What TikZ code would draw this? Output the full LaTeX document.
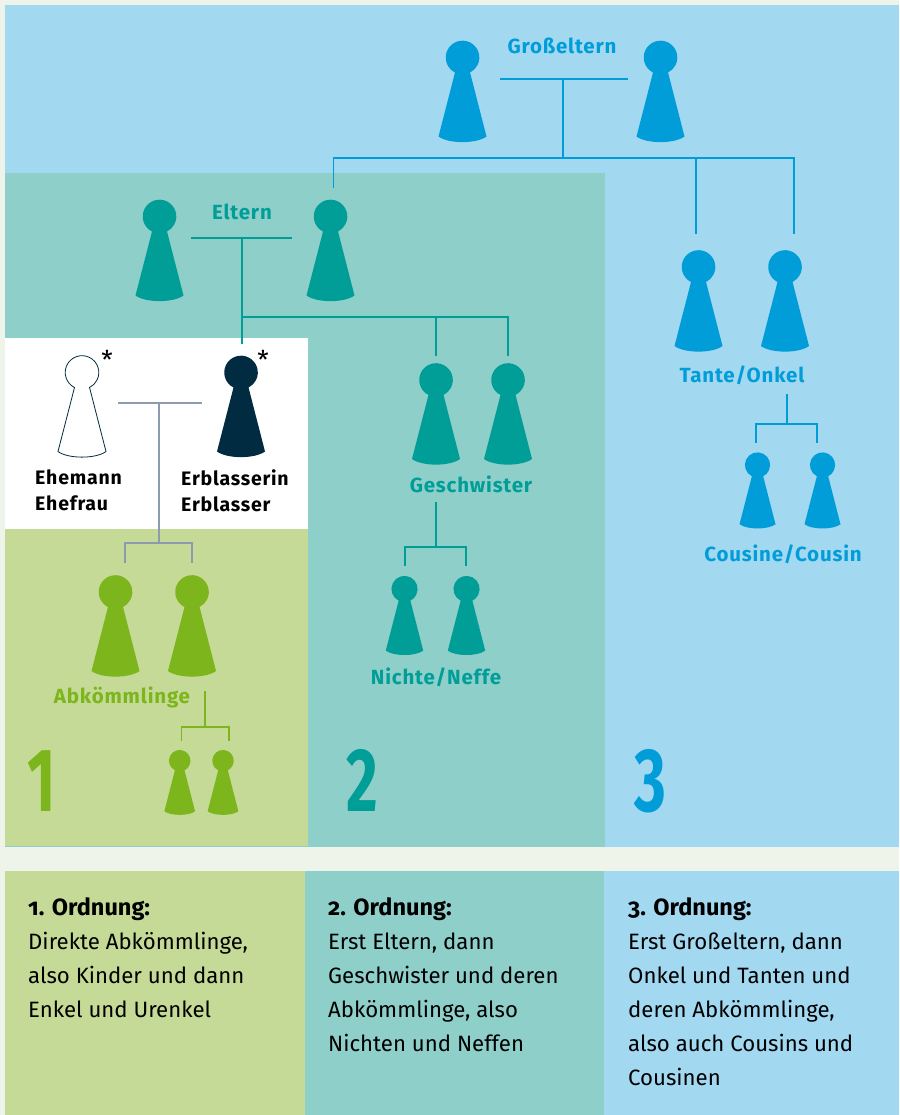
\documentclass[tikz,border=0pt]{standalone}
\usepackage{fontspec}
\setmainfont{Fira Sans}
\newfontfamily\labelfont[LetterSpace=4]{Fira Sans}
\newfontfamily\orderfont[Numbers=OldStyle]{Fira Sans}
\newcommand\ordertitle[1]{{\fontsize{23.5}{34}\selectfont\bfseries #1}}
\definecolor{pagebg}{HTML}{EEF4E9}
\definecolor{blueback}{HTML}{A3D8F1}
\definecolor{tealback}{HTML}{8FCFCA}
\definecolor{greenback}{HTML}{C5DA97}
\definecolor{bluedark}{HTML}{009DD9}
\definecolor{tealdark}{HTML}{009E97}
\definecolor{greendark}{HTML}{7DB51C}
\definecolor{navy}{HTML}{012B41}
\definecolor{greyline}{HTML}{8D9BAE}
\tikzset{
    pics/pawn/.style = {
        code = {
            \path[pic actions] (-7.5,15) arc[start angle=243.4, end angle=-63.4, radius=16.8pt]
                -- (24,79) .. controls (14,86.5) and (-14,86.5) .. (-24,79) -- cycle;
        }
    },
    relation/.style = {line width=1.6pt, #1},
    kin/.style = {
        inner sep=0, anchor=base, text=#1, font=\labelfont\bfseries\fontsize{20.5}{24}\selectfont
    },
    bignum/.style = {
        inner sep=0, anchor=base west, text=#1, font=\bfseries\fontsize{90}{90}\selectfont
    },
    person/.style = {
        inner sep=0, anchor=base west, align=left, font=\labelfont\bfseries\fontsize{19.5}{26}\selectfont
    },
    order/.style = {
        inner sep=0, anchor=north west, align=left, font=\orderfont\fontsize{22.2}{34}\selectfont
    }
}
\begin{document}
\begin{tikzpicture}[x=1pt, y=-1pt]
    \useasboundingbox (0,0) rectangle (899,1115);
    % backgrounds
    \fill[pagebg] (0,0) rectangle (899,1115);
    \fill[blueback] (5,5) rectangle (899,847);
    \fill[tealback] (5,173) rectangle (605,847);
    \fill[white] (5,338) rectangle (308,529);
    \fill[greenback] (5,529) rectangle (308,846);
    \fill[greenback] (5,871) rectangle (305,1115);
    \fill[tealback] (305,871) rectangle (604,1115);
    \fill[blueback] (604,871) rectangle (899,1115);
    % pawns
    \pic[fill=bluedark] (grandA) at (462.5,57.5) {pawn};
    \pic[fill=bluedark] (grandB) at (660.5,57.5) {pawn};
    \pic[fill=tealdark] (parentA) at (159.5,216.5) {pawn};
    \pic[fill=tealdark] (parentB) at (330.5,216.5) {pawn};
    \pic[fill=bluedark] (auntA) at (698.5,267) {pawn};
    \pic[fill=bluedark] (auntB) at (785,267) {pawn};
    \pic[draw=navy, line width=.8pt, fill=white] (spouse) at (82,372.5) {pawn};
    \pic[fill=navy] (testator) at (241,372.5) {pawn};
    \pic[fill=tealdark] (siblingA) at (436,380) {pawn};
    \pic[fill=tealdark] (siblingB) at (508,380) {pawn};
    \pic[fill=bluedark, scale=.75] (cousinA) at (757.5,465) {pawn};
    \pic[fill=bluedark, scale=.75] (cousinB) at (822.5,465) {pawn};
    \pic[fill=tealdark, scale=.78] (niceA) at (404.5,589) {pawn};
    \pic[fill=tealdark, scale=.78] (niceB) at (466.5,589) {pawn};
    \pic[fill=greendark] (childA) at (115.5,592) {pawn};
    \pic[fill=greendark] (childB) at (192,592) {pawn};
    \pic[fill=greendark, scale=.64] (grandchildA) at (179.7,760.7) {pawn};
    \pic[fill=greendark, scale=.64] (grandchildB) at (223,760.7) {pawn};
    % connector points
    \coordinate (gpL) at (500,79);
    \coordinate (gpR) at (628,79);
    \coordinate (gpM) at (563,79);
    \coordinate (gpD) at (563,158);
    \coordinate (gpA) at (333.5,188);
    \coordinate (gpB) at (696,234);
    \coordinate (gpC) at (794,234);
    \coordinate (pL) at (191,238);
    \coordinate (pR) at (292,238);
    \coordinate (pM) at (242,238);
    \coordinate (pD) at (242,344);
    \coordinate (pJ) at (242,317);
    \coordinate (pA) at (436,356);
    \coordinate (pB) at (508,356);
    \coordinate (cL) at (118,402.5);
    \coordinate (cR) at (202,402.5);
    \coordinate (cM) at (158.5,402.5);
    \coordinate (cD) at (158.5,542.5);
    \coordinate (cA) at (125,563);
    \coordinate (cB) at (192,563);
    \coordinate (aU) at (787,394);
    \coordinate (aD) at (787,424);
    \coordinate (aA) at (756,443);
    \coordinate (aB) at (817,443);
    \coordinate (sU) at (436,502);
    \coordinate (sD) at (436,547);
    \coordinate (sA) at (405,566);
    \coordinate (sB) at (466,566);
    \coordinate (kU) at (205,691);
    \coordinate (kD) at (205,727);
    \coordinate (kA) at (181.5,741);
    \coordinate (kB) at (229,741);
    % connectors
    \draw[relation=bluedark] (gpL) -- (gpR);
    \draw[relation=bluedark] (gpM) -- (gpD);
    \draw[relation=bluedark] (gpA) |- (gpD) -| (gpC);
    \draw[relation=bluedark] (gpB) |- (gpD);
    \draw[relation=tealdark] (pL) -- (pR);
    \draw[relation=tealdark] (pM) -- (pD);
    \draw[relation=tealdark] (pJ) -| (pB);
    \draw[relation=tealdark] (pA) |- (pJ);
    \draw[relation=greyline, line width=2pt] (cL) -- (cR);
    \draw[relation=greyline, line width=2pt] (cM) -- (cD);
    \draw[relation=greyline, line width=2pt] (cA) |- (cD) -| (cB);
    \draw[relation=bluedark] (aU) -- (aD);
    \draw[relation=bluedark] (aA) |- (aD) -| (aB);
    \draw[relation=tealdark] (sU) -- (sD);
    \draw[relation=tealdark] (sA) |- (sD) -| (sB);
    \draw[relation=greendark] (kU) -- (kD);
    \draw[relation=greendark] (kA) |- (kD) -| (kB);
    % labels
    \node[kin=bluedark] (grandparents) at (562,54) {Großeltern};
    \node[kin=tealdark] (parents) at (242,219) {Eltern};
    \node[kin=tealdark] (siblings) at (471,492) {Geschwister};
    \node[kin=bluedark] (auntuncle) at (742,382) {Tante/Onkel};
    \node[kin=bluedark] (cousins) at (783,561) {Cousine/Cousin};
    \node[kin=tealdark] (nieces) at (436,684) {Nichte/Neffe};
    \node[kin=greendark] (descendants) at (122,703) {Abkömmlinge};
    \node[person] (spouselabel) at (35,484) {Ehemann};
    \node[person] (spouselabelB) at (35,510) {Ehefrau};
    \node[person] (testatorlabel) at (181,485) {Erblasserin};
    \node[person] (testatorlabelB) at (181,511) {Erblasser};
    \node[inner sep=0, font=\fontsize{26}{26}\selectfont] (starA) at (107,360) {*};
    \node[inner sep=0, font=\fontsize{26}{26}\selectfont] (starB) at (263,360) {*};
    \node[bignum=greendark] (numA) at (27,811) {\scalebox{.68}[1]{1}};
    \node[bignum=tealdark] (numB) at (346,811) {\scalebox{.68}[1]{2}};
    \node[bignum=bluedark] (numC) at (634,811) {\scalebox{.68}[1]{3}};
    % legend
    \node[order] (orderA) at (28,897) {\ordertitle{1. Ordnung:}\\Direkte Abkömmlinge,\\also Kinder und dann\\Enkel und Urenkel};
    \node[order] (orderB) at (328,897) {\ordertitle{2. Ordnung:}\\Erst Eltern, dann\\Geschwister und deren\\Abkömmlinge, also\\Nichten und Neffen};
    \node[order] (orderC) at (628,897) {\ordertitle{3. Ordnung:}\\Erst Großeltern, dann\\Onkel und Tanten und\\deren Abkömmlinge,\\also auch Cousins und\\Cousinen};
\end{tikzpicture}
\end{document}
